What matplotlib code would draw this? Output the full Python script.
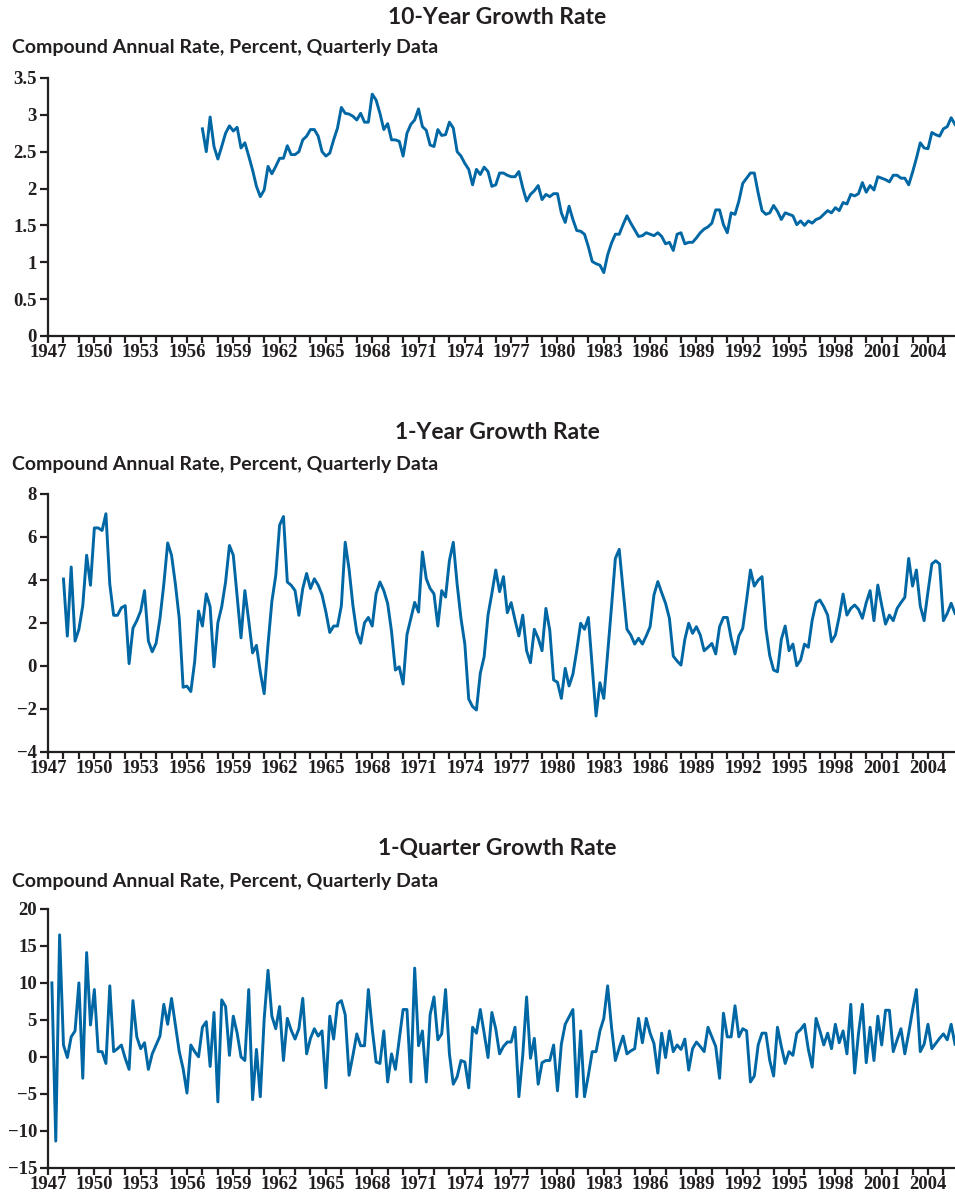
import numpy as np
import matplotlib
matplotlib.use("Agg")
import matplotlib.pyplot as plt
from matplotlib.ticker import MultipleLocator

# values, quarterly
ten_year = [
  2.81, 2.50, 2.97, 2.57, 2.40, 2.57, 2.75, 2.85, 2.78, 2.83, 2.55, 2.62, 2.44, 2.25, 2.03, 1.89,
  1.98, 2.30, 2.20, 2.30, 2.41, 2.41, 2.58, 2.46, 2.46, 2.50, 2.66, 2.71, 2.80, 2.80, 2.71, 2.50,
  2.44, 2.48, 2.66, 2.82, 3.10, 3.02, 3.01, 2.98, 2.93, 3.02, 2.90, 2.90, 3.28, 3.20, 3.02, 2.80,
  2.88, 2.66, 2.66, 2.64, 2.44, 2.75, 2.87, 2.93, 3.08, 2.84, 2.79, 2.59, 2.57, 2.80, 2.72, 2.73,
  2.90, 2.82, 2.50, 2.44, 2.34,
  2.26, 2.05, 2.26, 2.19, 2.29, 2.23, 2.03, 2.05, 2.21, 2.21, 2.18, 2.16, 2.16, 2.23, 2.01, 1.83,
  1.92, 1.97, 2.04, 1.85, 1.92, 1.89, 1.93, 1.93, 1.67, 1.54, 1.76, 1.58, 1.43, 1.42, 1.38, 1.21,
  1.01, 0.98, 0.96, 0.86, 1.10, 1.26, 1.38, 1.38, 1.51, 1.63, 1.53, 1.44, 1.35, 1.36, 1.40, 1.38,
  1.36, 1.40, 1.35, 1.25, 1.27, 1.16, 1.38, 1.40, 1.25, 1.27, 1.27, 1.33, 1.40, 1.45, 1.48, 1.53,
  1.71, 1.71, 1.51, 1.40, 1.67, 1.65, 1.83, 2.07, 2.14, 2.21, 2.21, 1.94, 1.70, 1.65, 1.67, 1.77,
  1.69, 1.58, 1.67, 1.65, 1.63, 1.51, 1.56, 1.50, 1.56, 1.53, 1.58, 1.60, 1.65, 1.70, 1.67, 1.74,
  1.70, 1.81, 1.79, 1.92, 1.90, 1.93, 2.08, 1.95, 2.04, 1.98, 2.16, 2.14, 2.12, 2.09, 2.18, 2.18,
  2.14, 2.14, 2.05, 2.22, 2.41, 2.62, 2.55, 2.54, 2.76, 2.73, 2.71, 2.81, 2.84, 2.96, 2.87]

one_year = [
  4.04, 1.38, 4.60, 1.15, 1.70, 2.80, 5.15, 3.75, 6.42, 6.42, 6.30, 7.08, 3.80, 2.35, 2.35, 2.70,
  2.80, 0.10, 1.75, 2.10, 2.55, 3.50, 1.15, 0.65, 1.05, 2.20, 3.80, 5.72, 5.15, 3.80, 2.20, -1.00,
  -0.95, -1.20, 0.20, 2.55, 1.85, 3.35, 2.75, -0.05, 2.00, 2.75, 3.90, 5.60, 5.15, 3.20, 1.30, 3.50,
  2.10, 0.60, 0.95, -0.30, -1.30, 1.00, 3.00, 4.20, 6.55, 6.95, 3.90, 3.75, 3.50, 2.35, 3.60, 4.30,
  3.60, 4.05, 3.75, 3.30, 2.50, 1.55, 1.85, 1.85, 2.80, 5.75, 4.50, 2.80, 1.55, 1.05, 2.00, 2.25,
  1.85, 3.35, 3.90, 3.50, 2.90, 1.60, -0.20, -0.05, -0.85, 1.45, 2.20, 2.95, 2.50, 5.30, 4.05, 3.60,
  3.35, 1.85, 3.50, 3.20, 4.90, 5.75, 3.80, 2.20, 1.00, -1.55,
  -1.90, -2.06, -0.35, 0.42, 2.36, 3.37, 4.46, 3.45, 4.15, 2.47, 2.94, 2.13, 1.39, 2.36, 0.70, 0.14,
  1.70, 1.28, 0.70, 2.67, 1.66, -0.66, -0.77, -1.52, -0.12, -0.94, -0.39, 0.73, 1.98, 1.70, 2.25, -0.04,
  -2.34, -0.79, -1.52, 0.58, 2.75, 5.00, 5.42, 3.53, 1.70, 1.43, 1.01, 1.28, 1.01, 1.39, 1.82, 3.30,
  3.92, 3.40, 2.91, 2.21, 0.45, 0.22, 0.03, 1.23, 1.98, 1.51, 1.82, 1.43, 0.70, 0.86, 1.04, 0.55,
  1.82, 2.25, 2.25, 1.28, 0.55, 1.39, 1.74, 3.06, 4.46, 3.71, 3.99, 4.15, 1.74, 0.47, -0.20, -0.28,
  1.23, 1.85, 0.70, 1.01, 0.00, 0.27, 1.01, 0.86, 2.13, 2.94, 3.06, 2.75, 2.36, 1.12, 1.43, 2.29,
  3.34, 2.36, 2.67, 2.83, 2.63, 2.21, 2.94, 3.50, 2.10, 3.76, 2.83, 1.94, 2.36, 2.10, 2.67, 2.94,
  3.19, 5.00, 3.71, 4.46, 2.78, 2.10, 3.45, 4.74, 4.89, 4.74, 2.10, 2.44, 2.91, 2.44]

one_quarter = [
  10.0, -11.4, 16.5, 1.6, -0.1, 2.7, 3.5, 10.0, -2.9, 14.1, 4.3, 9.1, 0.7, 0.7, -0.9, 9.6,
  0.7, 1.1, 1.6, -0.2, -1.7, 7.6, 2.7, 1.1, 1.9, -1.7, 0.4, 1.6, 2.8, 7.1, 4.4, 7.9,
  4.3, 0.7, -1.6, -4.9, 1.6, 0.7, 0.0, 4.0, 4.75, -1.3, 6.0,
  -6.1, 7.7, 6.8, 0.2, 5.5, 3.2, 0.0, -0.5, 9.1, -5.8, 1.0, -5.4, 5.1, 11.7, 5.5, 3.8,
  6.8, -0.5, 5.2, 3.6, 2.4, 3.8, 7.9, 0.4, 2.5, 3.8, 2.8, 3.5, -4.2, 5.5, 2.4, 7.2,
  7.6, 5.7, -2.5, 0.2, 3.1,
  1.5, 1.5, 9.1, 3.8, -0.7, -0.9, 3.5, -3.4, 0.4, -1.7, 2.3, 6.4, 6.4, -3.4, 12.0, 1.5,
  3.5, -3.4, 5.7, 8.1, 2.3, 3.1, 9.1, 0.4, -3.7, -2.7, -0.5, -0.7, -4.2, 4.0, 3.2, 6.4,
  3.2, -0.1, 6.0, 3.8, 0.4, 1.4,
  2.0, 2.0, 4.0, -5.4, 0.2, 8.1, -0.2, 2.5, -3.7, -0.8, -0.5, -0.5, 1.6, -4.6, 1.7, 4.4,
  5.4, 6.4, -5.4, 3.5, -5.4, -2.5, 0.7, 0.7, 3.5, 5.2, 9.6, 4.0, -0.5, 1.2, 2.8, 0.4,
  0.8, 1.1, 5.2, 1.9, 5.2, 3.2, 1.8,
  -2.2, 3.2, -0.1, 3.5, 0.7, 1.6, 1.0, 2.4, -1.8, 1.1, 2.0, 1.4, 0.7, 4.0, 2.7, 1.4,
  -2.9, 5.9, 2.7, 2.7, 6.9, 2.7, 3.8, 3.5, -3.4, -2.6, 1.6, 3.2, 3.2, -0.5, -2.6, 4.0,
  1.4, -0.9, 0.7, 0.2, 3.2, 3.7, 4.4,
  1.0, -1.4, 5.2, 3.5, 1.6, 3.2, 1.1, 4.4, 1.9, 3.5, 0.4, 7.1, -2.2, 3.2, 7.1, -0.8,
  4.0, -0.5, 5.5, 1.6, 6.3, 6.3, 0.7, 2.3, 3.8, 0.4, 3.2, 6.3, 9.1, 0.7, 1.7, 4.4,
  1.1, 1.8, 2.5, 3.1, 2.3, 4.4, 1.7]

# first quarter of each series (year + (q-1)/4)
starts = [1957.0, 1948.0, 1947.25]
titles = ["10-Year Growth Rate", "1-Year Growth Rate", "1-Quarter Growth Rate"]
subtitle = "Compound Annual Rate, Percent, Quarterly Data"
ylims = [(0, 3.5), (-4, 8), (-15, 20)]
ysteps = [0.5, 2, 5]
year_labels = list(range(1947, 2005, 3))

line_color = "#0067a5"
ink = "#231f20"
tick_font = {"family": "Liberation Serif", "weight": "bold", "size": 13.5}

fig = plt.figure(figsize=(9.55, 11.99), dpi=100)

# axes boxes in figure fractions: left, bottom, width, height
boxes = [[0.0503, 0.7198, 0.9497, 0.2152],
         [0.0503, 0.3731, 0.9497, 0.2149],
         [0.0503, 0.0261, 0.9497, 0.2158]]
title_y = [0.9858, 0.6389, 0.2927]
sub_y = [0.9600, 0.6130, 0.2652]


def fmt(v):
  return ("%g" % v).replace("-", "\u2212")


def draw_panel(ax, start, vals, ylim, ystep):
  dates = start + np.arange(len(vals)) / 4.0
  ax.plot(dates, vals, color=line_color, lw=2.1)
  ax.set_xlim(1947, 2005.75)
  ax.set_ylim(*ylim)
  for s in ["top", "right"]:
    ax.spines[s].set_visible(False)
  for s in ["left", "bottom"]:
    ax.spines[s].set_linewidth(1.6)
    ax.spines[s].set_color(ink)
  ax.set_xticks(year_labels)
  ax.set_xticklabels([str(y) for y in year_labels], **tick_font, color=ink)
  ax.xaxis.set_minor_locator(MultipleLocator(1))
  yt = np.arange(ylim[0], ylim[1] + ystep / 2, ystep)
  ax.set_yticks(yt)
  ax.set_yticklabels([fmt(v) for v in yt], **tick_font, color=ink)
  ax.tick_params(axis="x", which="both", direction="out", length=5, width=1.6, color=ink, pad=1)
  ax.tick_params(axis="y", direction="out", length=6, width=1.6, color=ink, pad=2)
  ax.set_facecolor("none")


series = [ten_year, one_year, one_quarter]
for i in range(3):
  ax = fig.add_axes(boxes[i])
  draw_panel(ax, starts[i], series[i], ylims[i], ysteps[i])
  fig.text(0.5204, title_y[i], titles[i], ha="center", va="center",
           family="Lato", weight="bold", size=16.5, color=ink)
  fig.text(0.0126, sub_y[i], subtitle, ha="left", va="center",
           family="Lato", weight="bold", size=14, color=ink)

plt.savefig("out.png", dpi=100)
plt.close()
